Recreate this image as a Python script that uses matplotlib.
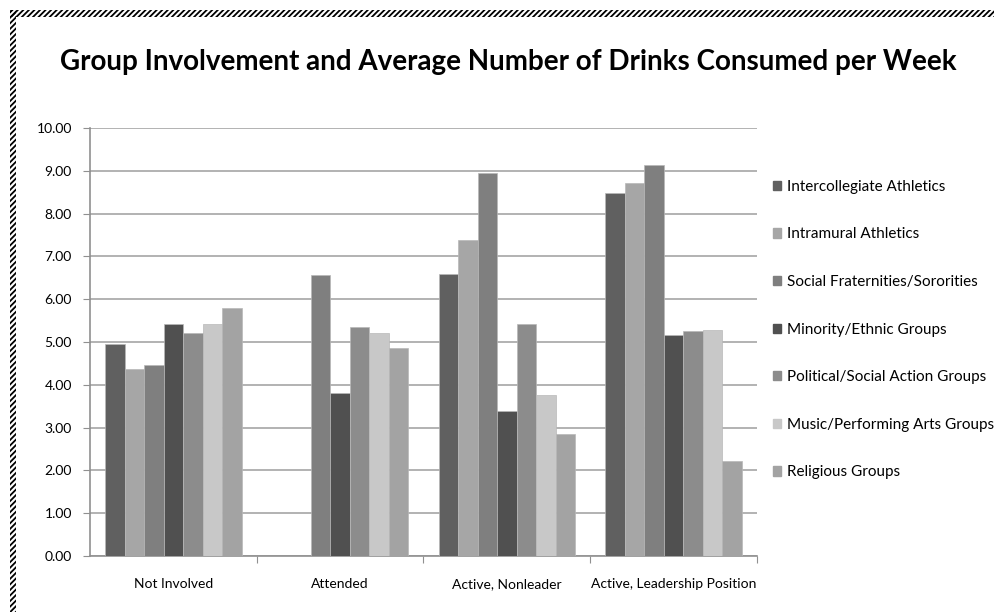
import matplotlib.pyplot as plt
import matplotlib.patches as mpatches
import numpy as np

plt.rcParams['font.family'] = ['Lato', 'DejaVu Sans']
plt.rcParams['hatch.linewidth'] = 1.3
plt.rcParams['hatch.color'] = '#2b4c9b'

categories = ["Not Involved", "Attended", "Active, Nonleader", "Active, Leadership Position"]
groups = ["Intercollegiate Athletics", "Intramural Athletics", "Social Fraternities/Sororities",
          "Minority/Ethnic Groups", "Political/Social Action Groups",
          "Music/Performing Arts Groups", "Religious Groups"]

intercollegiate = [4.96, np.nan, 6.59, 8.47]
intramural = [4.38, np.nan, 7.38, 8.72]
social = [4.47, 6.56, 8.96, 9.13]
minority = [5.41, 3.82, 3.38, 5.17]
political = [5.20, 5.34, 5.41, 5.25]
music = [5.43, 5.20, 3.77, 5.28]
religious = [5.80, 4.87, 2.84, 2.22]

series = [intercollegiate, intramural, social, minority, political, music, religious]
colors = ['#606060', '#a6a6a6', '#7f7f7f', '#505050', '#8c8c8c', '#c8c8c8', '#a3a3a3']

W, H = 995, 612
fig = plt.figure(figsize=(W / 100, H / 100), dpi=100)
ax = fig.add_axes([90 / W, (H - 556) / H, (757 - 90) / W, (556 - 128) / H])

x = np.arange(len(categories))
bw = 19.5 / 166.75
for i, (vals, c) in enumerate(zip(series, colors)):
    ax.bar(x + (i - 3) * bw, vals, width=bw, color=c, edgecolor='#b8b8b8',
           linewidth=0.5, label=groups[i], zorder=3)

ax.set_xlim(-0.5, 3.5)
ax.set_ylim(0, 10)
ax.set_yticks(np.arange(0, 11, 1))
ax.set_yticklabels(["%.2f" % v for v in np.arange(0, 11, 1)], fontsize=10)
ax.yaxis.grid(True, color='#a6a6a6', linewidth=1.2, zorder=0)

# category labels centred, tick marks at group boundaries
ax.set_xticks([0.5, 1.5, 2.5, 3.5])
ax.set_xticklabels([])
ax.set_xticks(x, minor=True)
ax.set_xticklabels(categories, minor=True, fontsize=10)
ax.tick_params(axis='x', which='minor', length=0, pad=16)
ax.tick_params(axis='x', which='major', length=5, color='#909090')
ax.tick_params(axis='y', length=5, color='#909090', pad=8)

for s in ['top', 'right']:
    ax.spines[s].set_visible(False)
for s in ['left', 'bottom']:
    ax.spines[s].set_color('#909090')
    ax.spines[s].set_linewidth(1.2)

fig.text(508 / W, 1 - 62 / H, "Group Involvement and Average Number of Drinks Consumed per Week",
         ha='center', va='center', fontsize=20, fontweight='bold')

handles = [mpatches.Patch(color=c, label=g) for c, g in zip(colors, groups)]
fig.legend(handles=handles, loc='upper left', bbox_to_anchor=(759 / W, 1 - 166 / H),
           frameon=False, fontsize=11, handlelength=0.55, handleheight=0.55,
           handletextpad=0.4, labelspacing=2.2)

# hatched chart-area border along the top and left edges
fig.patches.append(mpatches.Rectangle((10 / W, 0), 6 / W, 1 - 10 / H, transform=fig.transFigure,
                                      fill=False, hatch='//////', linewidth=0, figure=fig))
fig.patches.append(mpatches.Rectangle((10 / W, 1 - 17 / H), 1, 7 / H, transform=fig.transFigure,
                                      fill=False, hatch='//////', linewidth=0, figure=fig))

fig.savefig('out.png', dpi=100)
